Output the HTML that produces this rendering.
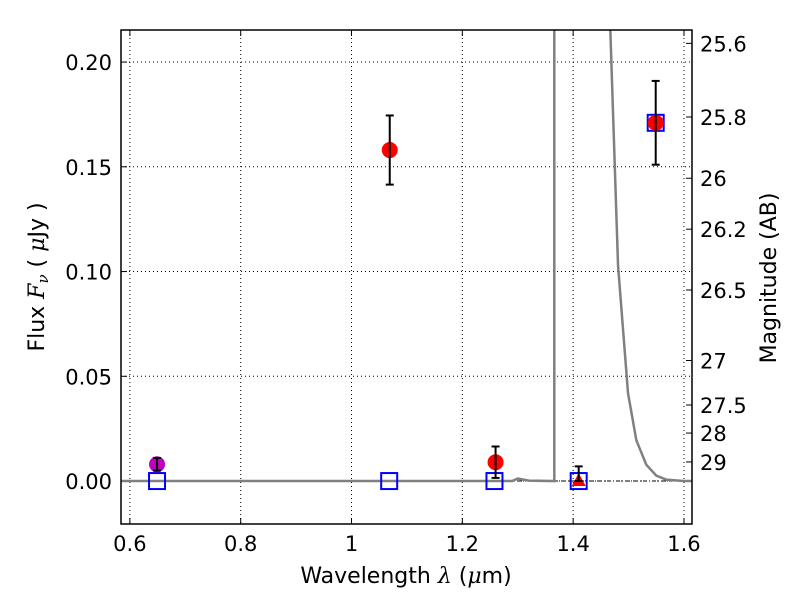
<!DOCTYPE html>
<html><head><meta charset="utf-8"><style>
body{margin:0;background:#fff}
svg{display:block;font-family:"DejaVu Sans","Liberation Sans",sans-serif}
</style></head><body>
<svg id="c" width="800" height="600"></svg>
<script>
const xTicks=[0.6,0.8,1,1.2,1.4,1.6];
const xTickLabels=["0.6","0.8","1","1.2","1.4","1.6"];
const yTicks=[0,0.05,0.1,0.15,0.2];
const yTickLabels=["0.00","0.05","0.10","0.15","0.20"];
const magTicks=[25.6,25.8,26,26.2,26.5,27,27.5,28,29];
const magLabels=["25.6","25.8","26","26.2","26.5","27","27.5","28","29"];
const curveX=[0.584,1.29,1.30,1.32,1.366,1.366,1.467,1.467,1.481,1.499,1.514,1.532,1.550,1.568,1.599,1.614];
const curveY=[0,0,0.0012,0.0002,0,0.3,0.3,0.216,0.103,0.042,0.0195,0.0078,0.0026,0.0007,0,0];
const circX=[1.069,1.26,1.549];
const circY=[0.158,0.009,0.171];
const circErr=[0.0165,0.0075,0.02];
const purpX=[0.649],purpY=[0.008],purpErr=[0.003];
const triX=[1.41],triY=[0.0],triErrLo=[0.0],triErrHi=[0.007];
const sqX=[0.649,1.068,1.258,1.41,1.549];
const sqY=[0,0,0,0,0.171];
const L=121,R=692,T=30,B=524;
const x0=0.584,x1=1.6145,y0=-0.0205,y1=0.2153;
const X=v=>L+(v-x0)/(x1-x0)*(R-L);
const Y=v=>B-(v-y0)/(y1-y0)*(B-T);
const NS="http://www.w3.org/2000/svg";
const svg=document.getElementById('c');
function mk(t,a,p){const e=document.createElementNS(NS,t);for(const k in a)e.setAttribute(k,a[k]);(p||svg).appendChild(e);return e;}
const clip=mk('clipPath',{id:'cp'});mk('rect',{x:L,y:T,width:R-L,height:B-T},clip);
xTicks.forEach((v,i)=>{
 const g=mk('line',{x1:X(v),x2:X(v),y1:T,y2:B,stroke:'#000','stroke-width':1,'stroke-dasharray':'1,3'});
 
 mk('line',{x1:X(v),x2:X(v),y1:B,y2:B-6,stroke:'#000'});mk('line',{x1:X(v),x2:X(v),y1:T,y2:T+6,stroke:'#000'});
 const t=mk('text',{x:X(v),y:B+27,'text-anchor':'middle','font-size':21});t.textContent=xTickLabels[i];
 
});
yTicks.forEach((v,i)=>{
 const g=mk('line',{x1:L,x2:R,y1:Y(v),y2:Y(v),stroke:'#000','stroke-width':1,'stroke-dasharray':'1,3'});
 
 mk('line',{x1:L,x2:L+6,y1:Y(v),y2:Y(v),stroke:'#000'});
 const t=mk('text',{x:L-9,y:Y(v)+8,'text-anchor':'end','font-size':21});t.textContent=yTickLabels[i];
 
});
magTicks.forEach((m,i)=>{
 const f=Math.pow(10,-0.4*(m-23.9));
 mk('line',{x1:R,x2:R-6,y1:Y(f),y2:Y(f),stroke:'#000'});
 const t=mk('text',{x:R+8,y:Y(f)+8,'font-size':21});t.textContent=magLabels[i];
 
});
const z=mk('line',{x1:L,x2:R,y1:Y(0),y2:Y(0),stroke:'#000','stroke-width':1,'stroke-dasharray':'4,2,1,2'});

const cg=mk('g',{'clip-path':'url(#cp)'});
const cp=mk('polyline',{points:curveX.map((v,i)=>X(v)+','+Y(curveY[i])).join(' '),fill:'none',stroke:'#808080','stroke-width':2.5},cg);

function err(x,lo,hi){mk('line',{x1:X(x),x2:X(x),y1:Y(lo),y2:Y(hi),stroke:'#000','stroke-width':2});
 [lo,hi].forEach(v=>mk('line',{x1:X(x)-4,x2:X(x)+4,y1:Y(v),y2:Y(v),stroke:'#000','stroke-width':2}));}
sqX.forEach((v,i)=>{const s=mk('rect',{x:X(v)-8,y:Y(sqY[i])-8,width:16,height:16,fill:'none',stroke:'#00f','stroke-width':2});
 });
purpX.forEach((v,i)=>{const c=mk('circle',{cx:X(v),cy:Y(purpY[i]),r:8,fill:'#bf00bf'});
 err(v,purpY[i]-purpErr[i],purpY[i]+purpErr[i]);});
circX.forEach((v,i)=>{const c=mk('circle',{cx:X(v),cy:Y(circY[i]),r:8,fill:'#f00'});
 err(v,circY[i]-circErr[i],circY[i]+circErr[i]);});
triX.forEach((v,i)=>{const x=X(v),y=Y(triY[i]);const p=mk('polygon',{points:`${x},${y-8} ${x-7},${y+5} ${x+7},${y+5}`,fill:'#f00'});
 err(v,triErrLo[i],triErrHi[i]);});
const fr=mk('rect',{x:L,y:T,width:R-L,height:B-T,fill:'none',stroke:'#000','stroke-width':1.5});

</script>
<svg style="position:absolute;left:0;top:0" width="800" height="600" font-family="DejaVu Sans, Liberation Sans, sans-serif">
<text x="406" y="583" text-anchor="middle" font-size="22">Wavelength  <tspan font-style="italic" font-family="DejaVu Serif, serif">λ</tspan> (<tspan font-style="italic" font-family="DejaVu Serif, serif">μ</tspan>m)</text>
<text transform="translate(44,277) rotate(-90)" text-anchor="middle" font-size="22">Flux  <tspan font-style="italic" font-family="DejaVu Serif, serif">F</tspan><tspan font-style="italic" font-size="15" dy="4" font-family="DejaVu Serif, serif">ν</tspan><tspan dy="-4">  (  </tspan><tspan font-style="italic" font-family="DejaVu Serif, serif">μ</tspan>Jy )</text>
<text transform="translate(776,278) rotate(-90)" text-anchor="middle" font-size="22">Magnitude (AB)</text>
</svg>
</body></html>
